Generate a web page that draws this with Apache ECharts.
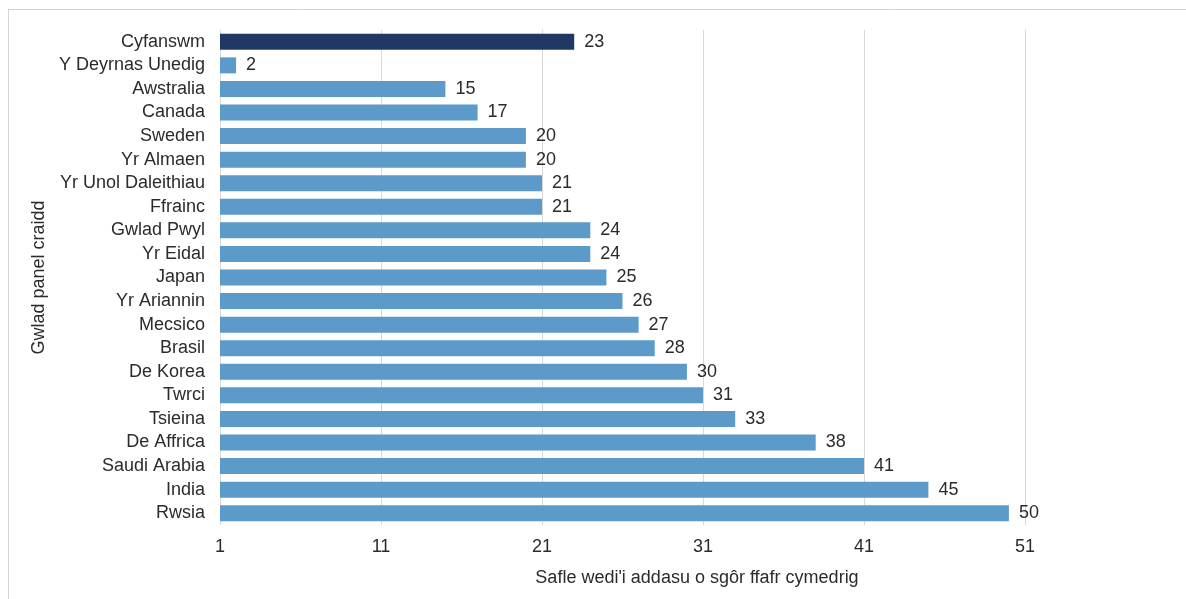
<!DOCTYPE html>
<html>
<head>
<meta charset="utf-8">
<script src="https://cdn.jsdelivr.net/npm/echarts@6/dist/echarts.min.js"></script>
<style>
html,body{margin:0;padding:0;background:#fff;}
#chart{width:1186px;height:599px;}
</style>
</head>
<body>
<div id="chart"></div>
<script>
// Data
var categories = ["Cyfanswm","Y Deyrnas Unedig","Awstralia","Canada","Sweden","Yr Almaen","Yr Unol Daleithiau","Ffrainc","Gwlad Pwyl","Yr Eidal","Japan","Yr Ariannin","Mecsico","Brasil","De Korea","Twrci","Tsieina","De Affrica","Saudi Arabia","India","Rwsia"];
var ranks = [23,2,15,17,20,20,21,21,24,24,25,26,27,28,30,31,33,38,41,45,50];
var axisStart = 1; // axis begins at rank 1 (bars grow from 1)
var tickLabels = ["1","11","21","31","41","51"];
var xAxisTitle = "Safle wedi'i addasu o sgôr ffafr cymedrig";
var yAxisTitle = "Gwlad panel craidd";

var chart = echarts.init(document.getElementById('chart'));
var font = 'Liberation Sans, Arial, sans-serif';
var txt = '#2b2b2b';
var fs = 18;

var seriesData = ranks.map(function (v, i) {
  return {
    value: v - axisStart,
    itemStyle: { color: i === 0 ? '#203864' : '#5b9ac9' }
  };
});

chart.setOption({
  animation: false,
  backgroundColor: '#ffffff',
  textStyle: { fontFamily: font },
  graphic: [
    { type: 'line', shape: { x1: 8, y1: 9.5, x2: 1186, y2: 9.5 }, style: { stroke: '#d4d4d4', lineWidth: 1 } },
    { type: 'line', shape: { x1: 8.5, y1: 9, x2: 8.5, y2: 599 }, style: { stroke: '#d4d4d4', lineWidth: 1 } }
  ],
  grid: { left: 220, right: 161, top: 30, bottom: 74, containLabel: false },
  xAxis: {
    type: 'value',
    min: 0,
    max: 50,
    interval: 10,
    axisLine: { show: false },
    axisTick: { show: false },
    splitLine: { show: true, lineStyle: { color: '#d9d9d9', width: 1 } },
    axisLabel: {
      color: txt, fontSize: fs, fontFamily: font, margin: 13,
      formatter: function (v) { return tickLabels[Math.round(v / 10)]; }
    },
    name: xAxisTitle,
    nameLocation: 'middle',
    nameGap: 44,
    nameTextStyle: { color: txt, fontSize: fs, fontFamily: font, padding: [0, 0, 0, 149] }
  },
  yAxis: {
    type: 'category',
    data: categories,
    inverse: true,
    axisLine: { show: false },
    axisTick: { show: false },
    axisLabel: { color: txt, fontSize: fs, fontFamily: font, margin: 15 },
    name: yAxisTitle,
    nameLocation: 'middle',
    nameGap: 168,
    nameRotate: 90,
    nameTextStyle: { color: txt, fontSize: fs, fontFamily: font }
  },
  series: [{
    type: 'bar',
    data: seriesData,
    barWidth: 16,
    label: {
      show: true,
      position: 'right',
      distance: 10,
      color: txt,
      fontSize: fs,
      fontFamily: font,
      formatter: function (p) { return String(ranks[p.dataIndex]); }
    }
  }]
});
</script>
</body>
</html>
